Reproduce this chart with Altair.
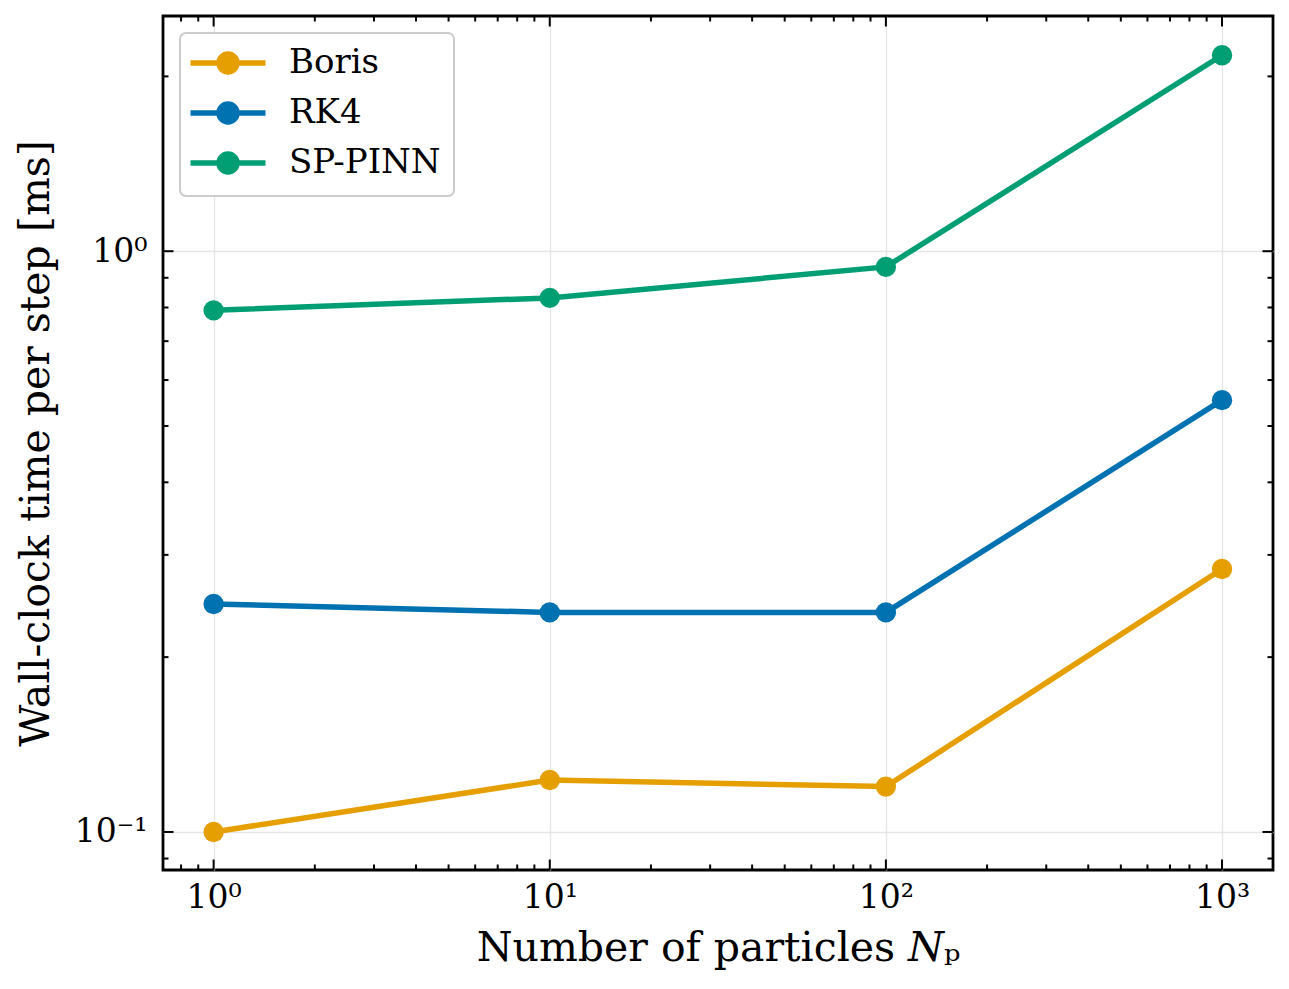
import altair as alt
import pandas as pd

# ---- data ----
n_particles = [1, 10, 100, 1000]
boris = [0.100, 0.1229, 0.1197, 0.2836]
rk4 = [0.2469, 0.2388, 0.2388, 0.554]
sp_pinn = [0.791, 0.831, 0.9397, 2.175]
series_names = ["Boris", "RK4", "SP-PINN"]
series_colors = ["#E69F00", "#0072B2", "#009E73"]

x_major = [1, 10, 100, 1000]
x_minor = [0.8, 0.9, 2, 3, 4, 5, 6, 7, 8, 9, 20, 30, 40, 50, 60, 70, 80, 90,
           200, 300, 400, 500, 600, 700, 800, 900]
y_major = [0.1, 1]
y_minor = [0.09, 0.2, 0.3, 0.4, 0.5, 0.6, 0.7, 0.8, 0.9, 2]

X_DOMAIN = [0.7069, 1418]
Y_DOMAIN = [0.0860, 2.541]

W, H = 1110, 854
FONT = "DejaVu Serif"

rows = []
for name, vals in zip(series_names, [boris, rk4, sp_pinn]):
    for n, v in zip(n_particles, vals):
        rows.append({"n": n, "t": v, "method": name})
df = pd.DataFrame(rows)

x_lab = ("datum.value == 1 ? '10\u2070' : datum.value == 10 ? '10\u00b9' : "
         "datum.value == 100 ? '10\u00b2' : datum.value == 1000 ? '10\u00b3' : ''")
y_lab = "datum.value == 1 ? '10\u2070' : datum.value == 0.1 ? '10\u207b\u00b9' : ''"

xscale = alt.Scale(type="log", domain=X_DOMAIN, nice=False)
yscale = alt.Scale(type="log", domain=Y_DOMAIN, nice=False)
cscale = alt.Scale(domain=series_names, range=series_colors)

xaxis = alt.Axis(values=x_major, labelExpr=x_lab, title="Number of particles \U0001D441\u209a",
                 ticks=False, domain=False, grid=True, gridColor="#e5e5e5", gridWidth=1.3,
                 labelFont=FONT, labelFontSize=33, labelColor="black", labelPadding=11,
                 titleFont=FONT, titleFontSize=41, titleFontWeight="normal", titleColor="black",
                 titlePadding=14)
yaxis = alt.Axis(values=y_major, labelExpr=y_lab, title="Wall-clock time per step [ms]",
                 ticks=False, domain=False, grid=True, gridColor="#e5e5e5", gridWidth=1.3,
                 labelFont=FONT, labelFontSize=33, labelColor="black", labelPadding=16,
                 titleFont=FONT, titleFontSize=41, titleFontWeight="normal", titleColor="black",
                 titlePadding=17)

# legend symbol: a line with a (visually) filled disc built from concentric rings
def ring(a):
    return f"M{a},0A{a},{a} 0 1,1 {-a},0A{a},{a} 0 1,1 {a},0"

sym_path = "M-3,0L3,0" + ring(0.72) + ring(0.36) + ring(0.08)

legend = alt.Legend(title=None, orient="top-left", offset=17, symbolType=sym_path,
                    symbolSize=625, symbolStrokeWidth=5.5, symbolOffset=18,
                    labelFont=FONT, labelFontSize=34, labelColor="black", labelOffset=44,
                    padding=13, rowPadding=10, fillColor="white", strokeColor="#cccccc",
                    cornerRadius=6, labelLimit=400)

base = alt.Chart(df)
lines = base.mark_line(strokeWidth=5.5).encode(
    x=alt.X("n:Q", scale=xscale, axis=xaxis),
    y=alt.Y("t:Q", scale=yscale, axis=yaxis),
    color=alt.Color("method:N", scale=cscale, legend=legend, sort=series_names),
)
points = base.mark_point(filled=True, size=415, opacity=1).encode(
    x=alt.X("n:Q", scale=xscale),
    y=alt.Y("t:Q", scale=yscale),
    color=alt.Color("method:N", scale=cscale, legend=None),
)

def xticks(vals, length):
    d = alt.Chart(pd.DataFrame({"v": vals}))
    bottom = d.mark_rule(color="black", strokeWidth=2).encode(
        x=alt.X("v:Q", scale=xscale), y=alt.value(H), y2=alt.value(H - length))
    top = d.mark_rule(color="black", strokeWidth=2).encode(
        x=alt.X("v:Q", scale=xscale), y=alt.value(0), y2=alt.value(length))
    return [bottom, top]

def yticks(vals, length):
    d = alt.Chart(pd.DataFrame({"v": vals}))
    left = d.mark_rule(color="black", strokeWidth=2).encode(
        y=alt.Y("v:Q", scale=yscale), x=alt.value(0), x2=alt.value(length))
    right = d.mark_rule(color="black", strokeWidth=2).encode(
        y=alt.Y("v:Q", scale=yscale), x=alt.value(W), x2=alt.value(W - length))
    return [left, right]

layers = [lines, points] + xticks(x_major, 10.5) + xticks(x_minor, 5.5) \
    + yticks(y_major, 10.5) + yticks(y_minor, 5.5)

chart = alt.layer(*layers).properties(
    width=W, height=H,
    autosize=alt.AutoSizeParams(type="none"),
    padding={"left": 155, "top": 8, "right": 8, "bottom": 111},
).configure(background="white").configure_view(
    stroke="black", strokeWidth=2.8
).configure_legend(strokeWidth=2)

chart.save("out.html", embed_options={"renderer": "svg", "actions": False})
